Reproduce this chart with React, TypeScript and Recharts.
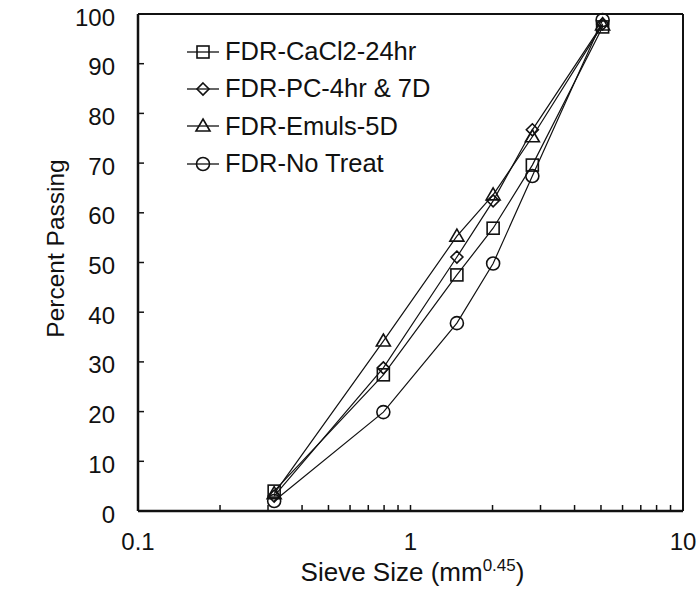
import React from "react";
import {
  LineChart,
  Line,
  XAxis,
  YAxis,
  ReferenceLine,
  Legend,
  Label,
} from "recharts";

// sieve sizes raised to the 0.45 power
const sieveSizes = [0.316, 0.795, 1.48, 2.01, 2.8, 5.07];

const cacl2 = [4.0, 27.4, 47.5, 56.9, 69.6, 97.4];
const pc = [3.0, 28.8, 51.1, 62.4, 76.7, 98.0];
const emuls = [3.5, 34.2, 55.3, 63.6, 75.3, 97.8];
const noTreat = [2.0, 19.9, 37.8, 49.8, 67.4, 98.8];

const seriesNames = [
  "FDR-CaCl2-24hr",
  "FDR-PC-4hr & 7D",
  "FDR-Emuls-5D",
  "FDR-No Treat",
];

const xTicks = [
  0.1, 0.2, 0.3, 0.4, 0.5, 0.6, 0.7, 0.8, 0.9, 1, 2, 3, 4, 5, 6, 7, 8, 9, 10,
];
const xTickLabels = [0.1, 1, 10];
const yTicks = [0, 10, 20, 30, 40, 50, 60, 70, 80, 90, 100];

const data = sieveSizes.map((x, i) => ({
  x,
  cacl2: cacl2[i],
  pc: pc[i],
  emuls: emuls[i],
  noTreat: noTreat[i],
}));

const FONT = '"Liberation Sans", Arial, sans-serif';
const INK = "#111";

type Shape = "square" | "diamond" | "triangle" | "circle";

function Marker({ cx, cy, shape }: { cx: number; cy: number; shape: Shape }) {
  const common = { fill: "none", stroke: INK, strokeWidth: 1.6 };
  if (shape === "square")
    return <rect x={cx - 6} y={cy - 6} width={12} height={12} {...common} />;
  if (shape === "diamond")
    return (
      <polygon
        points={`${cx},${cy - 6} ${cx + 6},${cy} ${cx},${cy + 6} ${cx - 6},${cy}`}
        {...common}
      />
    );
  if (shape === "triangle")
    return (
      <polygon
        points={`${cx},${cy - 7} ${cx + 7},${cy + 5} ${cx - 7},${cy + 5}`}
        {...common}
      />
    );
  return <circle cx={cx} cy={cy} r={6.5} {...common} />;
}

const dotFor = (shape: Shape) => (props: any) => {
  if (props.cx == null || props.cy == null) return <g key={props.key} />;
  return (
    <g key={`${shape}-${props.index}`}>
      <Marker cx={props.cx} cy={props.cy} shape={shape} />
    </g>
  );
};

const shapes: Shape[] = ["square", "diamond", "triangle", "circle"];

function XTick(props: any) {
  const { x, y, payload } = props;
  const show = xTickLabels.includes(payload.value);
  return (
    <g>
      <line x1={x} y1={y} x2={x} y2={y - 6} stroke={INK} strokeWidth={1.5} />
      {show && (
        <text
          x={x}
          y={y + 39}
          textAnchor="middle"
          fontSize={24}
          fontFamily={FONT}
          fill={INK}
        >
          {payload.value}
        </text>
      )}
    </g>
  );
}

function YTick(props: any) {
  const { x, y, payload } = props;
  return (
    <g>
      <line x1={x} y1={y} x2={x + 6} y2={y} stroke={INK} strokeWidth={1.5} />
      <text
        x={x - 23}
        y={y + 11.5}
        textAnchor="end"
        fontSize={24}
        fontFamily={FONT}
        fill={INK}
      >
        {payload.value}
      </text>
    </g>
  );
}

function LegendBox() {
  return (
    <div style={{ fontFamily: FONT, fontSize: 25.5, color: INK }}>
      {seriesNames.map((name, i) => (
        <div
          key={name}
          style={{ display: "flex", alignItems: "center", height: 37.3 }}
        >
          <svg width={40} height={20} style={{ display: "block" }}>
            <line x1={2} y1={10} x2={34} y2={10} stroke={INK} strokeWidth={1.3} />
            <Marker cx={18} cy={10} shape={shapes[i]} />
          </svg>
          <span style={{ whiteSpace: "nowrap" }}>{name}</span>
        </div>
      ))}
    </div>
  );
}

export default function App() {
  const keys = ["cacl2", "pc", "emuls", "noTreat"];
  return (
    <div
      style={{
        position: "absolute",
        top: 0,
        left: 0,
        width: 699,
        height: 592,
        background: "#fff",
      }}
    >
      <LineChart
        width={699}
        height={592}
        data={data}
        margin={{ top: 14, right: 16, left: 58, bottom: 11 }}
      >
        <XAxis
          dataKey="x"
          type="number"
          scale="log"
          domain={[0.1, 10]}
          ticks={xTicks}
          interval={0}
          allowDataOverflow
          height={70}
          tickSize={0}
          tickMargin={0}
          tickLine={false}
          tick={<XTick />}
          axisLine={{ stroke: INK, strokeWidth: 2.5 }}
        >
          <Label
            content={({ viewBox }: any) => (
              <text
                x={viewBox.x + viewBox.width / 2 + 2}
                y={viewBox.y + 70}
                textAnchor="middle"
                fontSize={26}
                fontFamily={FONT}
                fill={INK}
              >
                Sieve Size (mm
                <tspan dy={-10} fontSize={17}>
                  0.45
                </tspan>
                <tspan dy={10}>)</tspan>
              </text>
            )}
          />
        </XAxis>
        <YAxis
          type="number"
          domain={[0, 100]}
          ticks={yTicks}
          interval={0}
          width={80}
          tickSize={0}
          tickMargin={0}
          tickLine={false}
          tick={<YTick />}
          axisLine={{ stroke: INK, strokeWidth: 2.5 }}
        >
          <Label
            content={({ viewBox }: any) => {
              const cx = viewBox.x - 3;
              const cy = viewBox.y + viewBox.height / 2 - 14;
              return (
                <text
                  x={cx}
                  y={cy}
                  transform={`rotate(-90 ${cx} ${cy})`}
                  textAnchor="middle"
                  dominantBaseline="central"
                  fontSize={24.5}
                  fontFamily={FONT}
                  fill={INK}
                >
                  Percent Passing
                </text>
              );
            }}
          />
        </YAxis>
        <ReferenceLine x={10} stroke={INK} strokeWidth={2} />
        <ReferenceLine y={100} stroke={INK} strokeWidth={2} />
        {keys.map((k, i) => (
          <Line
            key={k}
            dataKey={k}
            name={seriesNames[i]}
            type="linear"
            stroke={INK}
            strokeWidth={1.2}
            dot={dotFor(shapes[i])}
            activeDot={false}
            isAnimationActive={false}
          />
        ))}
        <Legend
          layout="vertical"
          align="center"
          verticalAlign="middle"
          content={<LegendBox />}
          wrapperStyle={{ position: "absolute", top: 33, left: 185, width: "auto" }}
        />
      </LineChart>
    </div>
  );
}
